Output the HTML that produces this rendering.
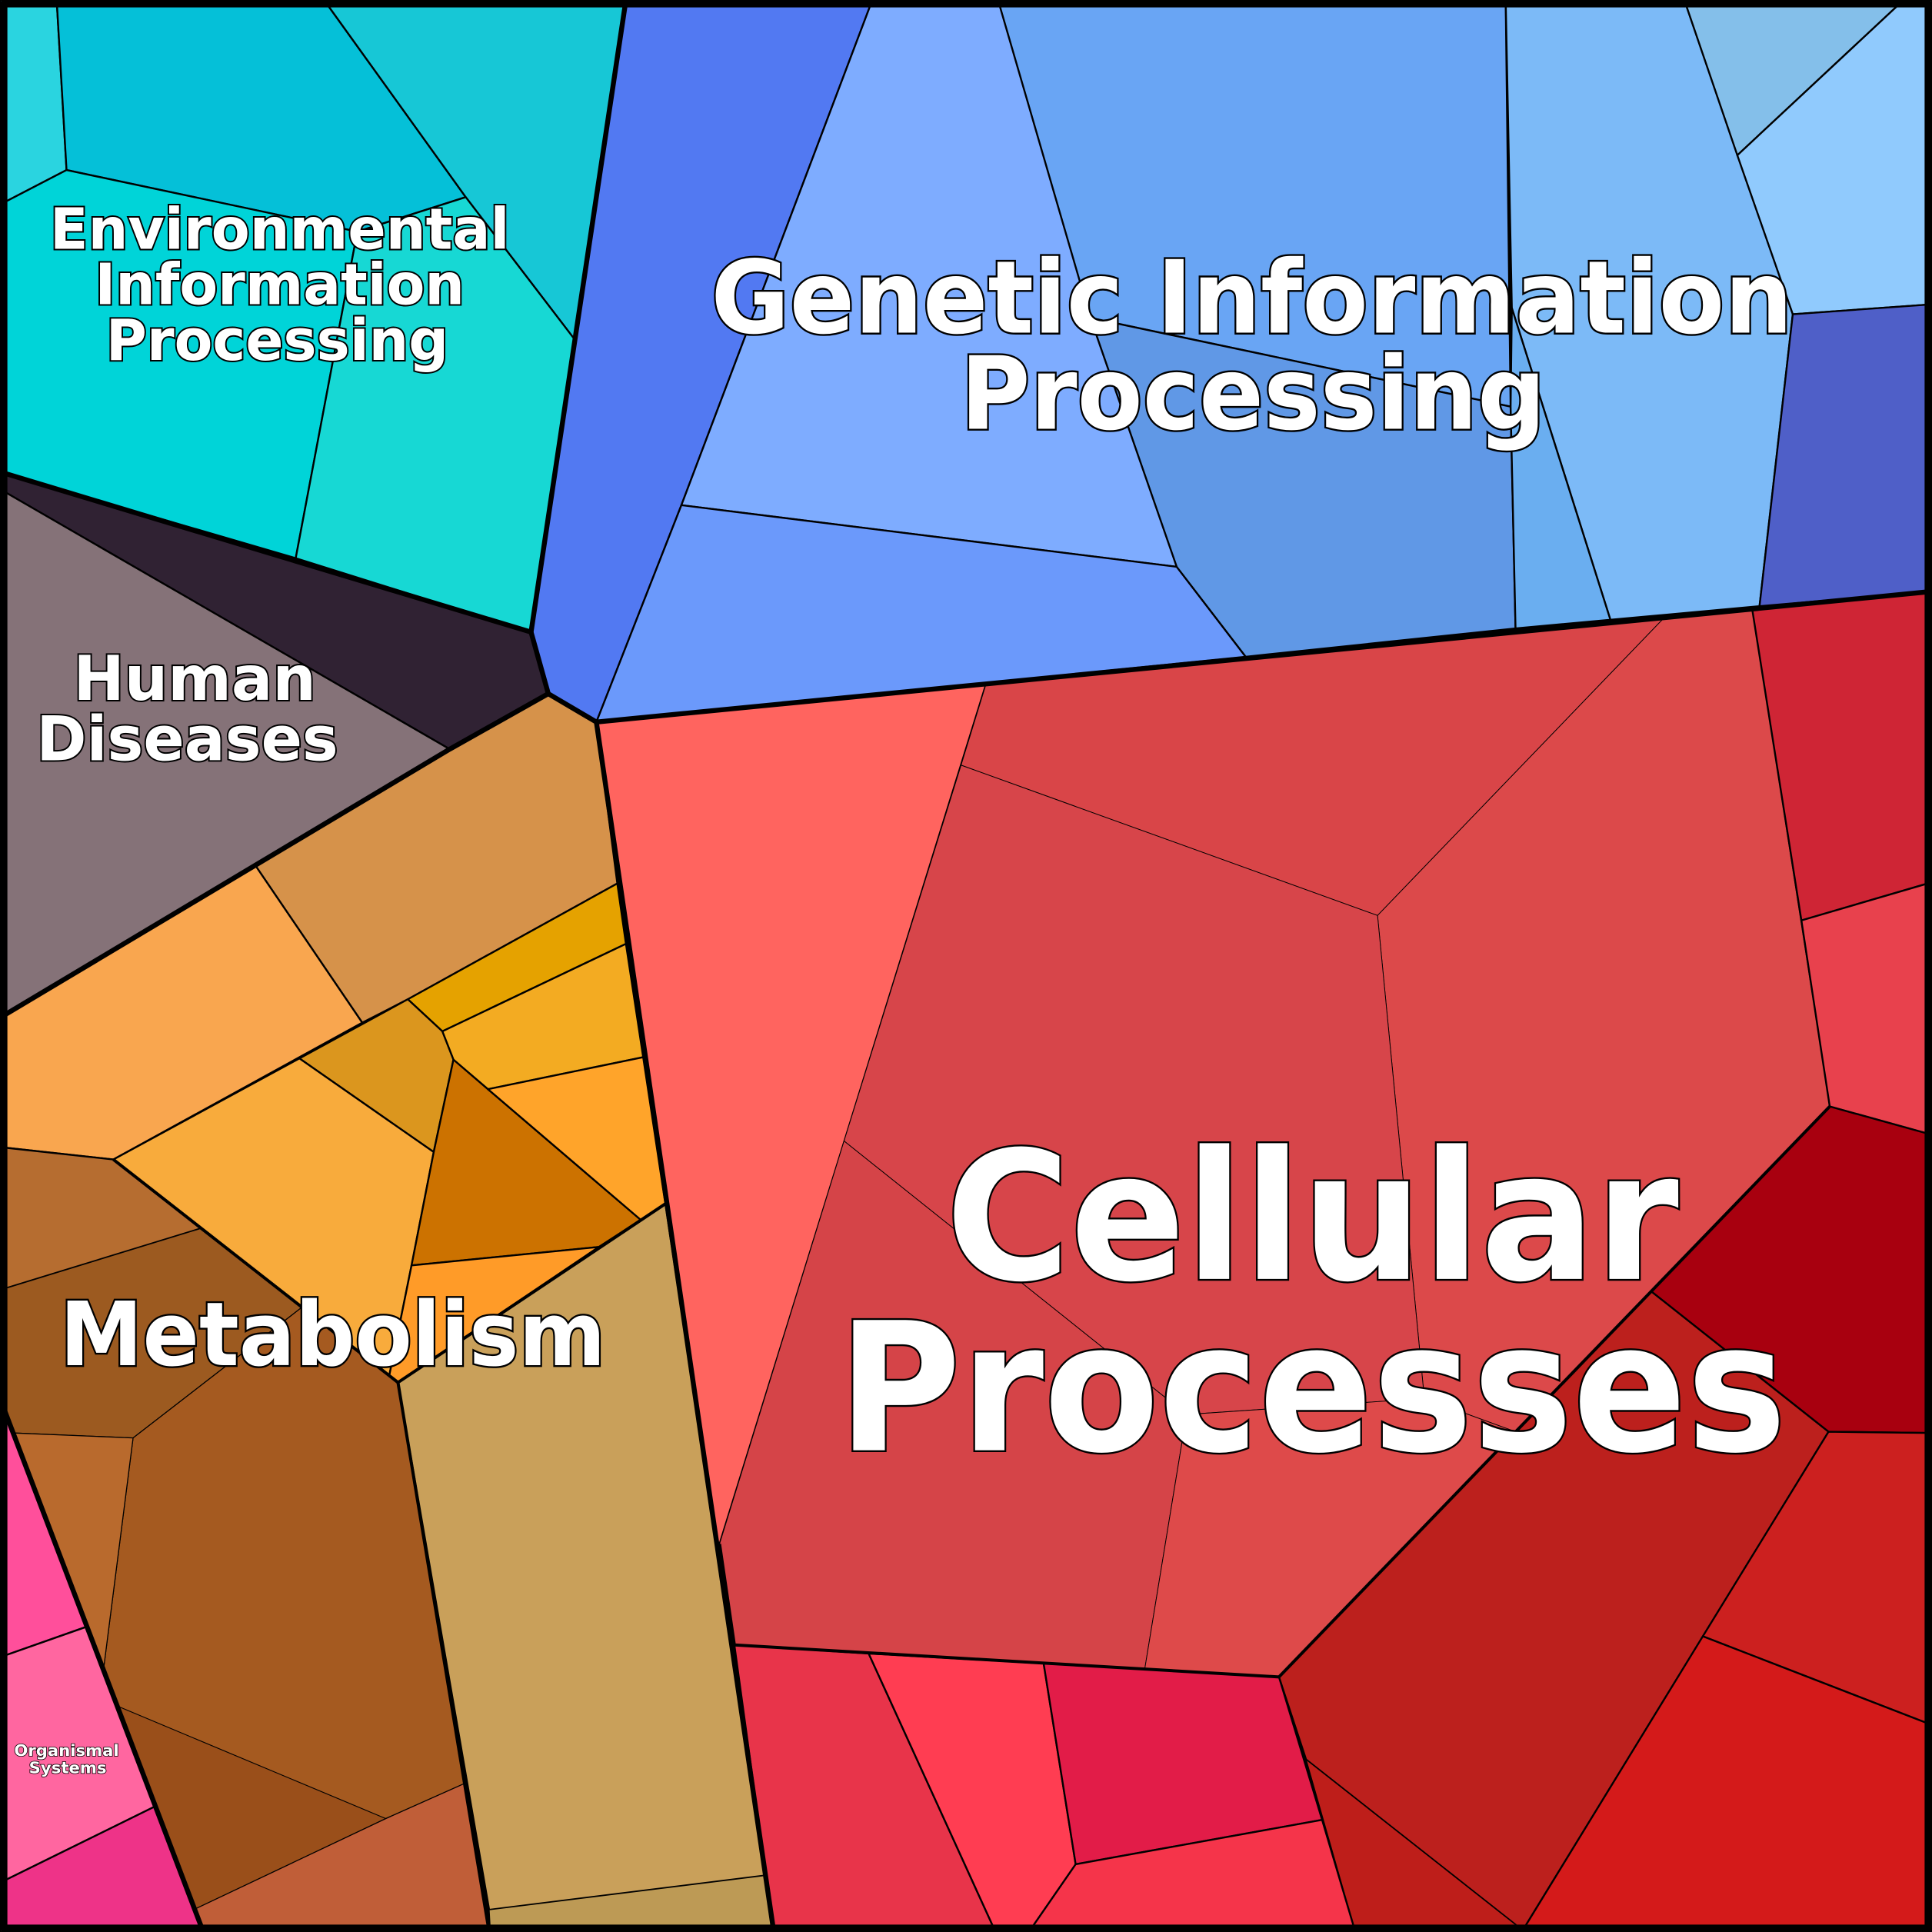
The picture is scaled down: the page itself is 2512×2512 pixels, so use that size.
<!DOCTYPE html>
<html><head><meta charset="utf-8"><style>html,body{margin:0;padding:0;background:#fff}svg{display:block}
text{font-family:"DejaVu Sans","Liberation Sans",sans-serif;font-weight:bold;fill:#fff;stroke:#000;paint-order:stroke;text-anchor:middle}</style></head>
<body>
<svg width="2512" height="2512" viewBox="0 0 1568 1568" xmlns="http://www.w3.org/2000/svg">
<rect x="0" y="0" width="1568" height="1568" fill="#000"/>
<g stroke="#000" stroke-width="1.5" stroke-linejoin="round">
<!-- Environmental -->
<polygon fill="#2ad4e0" points="0,0 46,0 54,138 0,166"/>
<polygon fill="#05c0d8" points="46,0 263,0 378,160 290,188 54,138"/>
<polygon fill="#17c7d6" points="263,0 508,0 466,275 378,160"/>
<polygon fill="#00d4d8" points="0,166 54,138 290,188 240,453 0,383"/>
<polygon fill="#17d8d4" points="290,188 378,160 466,275 431,513 240,453"/>
<!-- Human -->
<polygon fill="#302233" points="0,383 431,513 445,563 365,608 0,397"/>
<polygon fill="#857278" points="0,397 365,608 0,826"/>
<!-- Genetic -->
<polygon fill="#5279f2" points="508,0 708,0 553,410 484,586 445,563 431,513"/>
<polygon fill="#7eacff" points="708,0 810,0 955,460 553,410"/>
<polygon fill="#6b99fb" points="553,410 955,460 1011,533 484,586"/>
<polygon fill="#69a5f4" points="810,0 1222,0 1226,330 885,258"/>
<polygon fill="#6098e6" points="885,258 1226,330 1230,510 1011,533 955,460"/>
<polygon fill="#7cbaf7" points="1222,0 1367,0 1455,255 1428,492 1307,503 1227,250"/>
<polygon fill="#6aaef0" points="1227,250 1307,503 1230,510 1226,330"/>
<polygon fill="#84bfea" points="1367,0 1545,0 1410,126"/>
<polygon fill="#90cafd" points="1545,0 1568,0 1568,247 1455,255 1410,126"/>
<polygon fill="#4f5fc8" points="1455,255 1568,247 1568,480 1428,492"/>
<!-- Cellular -->
<polygon fill="#ff645f" points="484,586 800,556 584,1253 582,1253"/>
<polygon fill="#d94548" points="800,556 1350,502 1118,743 780,621" stroke-width="0.6"/>
<polygon fill="#dc494a" points="1350,502 1422,494 1485,898 1230,1162 1156,1135 1118,743" stroke-width="0.6"/>
<polygon fill="#d7454a" points="780,621 1118,743 1156,1135 963,1148 685,926" stroke-width="0.6"/>
<polygon fill="#d54448" points="685,926 963,1148 929,1355 596,1335 584,1253" stroke-width="0.6"/>
<polygon fill="#de4a4a" points="963,1148 1156,1135 1230,1162 1038,1361 929,1355" stroke-width="0.6"/>
<polygon fill="#cf2535" points="1422,494 1568,480 1568,716 1462,747"/>
<polygon fill="#e8414d" points="1462,747 1568,716 1568,921 1485,898"/>
<polygon fill="#a8000f" points="1485,898 1568,921 1568,1163 1484,1162 1340,1048"/>
<polygon fill="#bc201d" points="1340,1048 1484,1162 1235,1568 1230,1562 1060,1428 1038,1361 1230,1162"/>
<polygon fill="#be1e1a" points="1060,1428 1230,1562 1235,1568 1100,1568" stroke-width="0.8"/>
<polygon fill="#cc201f" points="1484,1162 1568,1163 1568,1400 1382,1328"/>
<polygon fill="#d41a1a" points="1382,1328 1568,1400 1568,1568 1235,1568"/>
<polygon fill="#e8344a" points="596,1335 705,1342 808,1568 628,1568"/>
<polygon fill="#ff3d52" points="705,1342 847,1350 873,1513 835,1568 808,1568"/>
<polygon fill="#e21c48" points="847,1350 1038,1361 1073,1477 873,1513"/>
<polygon fill="#f5344a" points="873,1513 1073,1477 1100,1568 835,1568"/>
<!-- Metabolism -->
<polygon fill="#d6924a" points="207,702 365,608 445,563 484,586 501,717 331,811 294,830"/>
<polygon fill="#f9a64f" points="0,826 207,702 294,830 92,941 0,931"/>
<polygon fill="#e5a200" points="331,811 501,717 508,766 359,837"/>
<polygon fill="#f3ab22" points="359,837 508,766 522,858 396,884 368,860"/>
<polygon fill="#db961e" points="243,859 331,811 359,837 368,860 352,935"/>
<polygon fill="#f8ab3c" points="92,941 243,859 352,935 334,1027 316,1116"/>
<polygon fill="#cc7200" points="368,860 396,884 520,990 486,1012 334,1027 352,935"/>
<polygon fill="#ffa42a" points="396,884 522,858 540,977 520,990"/>
<polygon fill="#ff9b28" points="334,1027 486,1012 323,1122 316,1116"/>
<polygon fill="#c9a05a" points="323,1122 540,977 622,1522 397,1550"/>
<polygon fill="#bd9a55" points="397,1550 622,1522 628,1568 398,1568" stroke-width="0.8"/>
<polygon fill="#b66d30" points="0,931 92,941 163,997 0,1047"/>
<polygon fill="#9c5a20" points="0,1047 163,997 245,1061 108,1167 11,1163 0,1135" stroke-width="0.8"/>
<polygon fill="#a55a20" points="108,1167 245,1061 323,1122 378,1447 313,1476 96,1385 84,1355" stroke-width="0.8"/>
<polygon fill="#b96a2d" points="11,1163 108,1167 84,1355" stroke-width="0.8"/>
<polygon fill="#9a4f1a" points="84,1355 96,1385 313,1476 159,1549" stroke-width="0.6"/>
<polygon fill="#c05e38" points="159,1549 313,1476 378,1447 397,1568 165,1568" stroke-width="0.8"/>
<!-- Organismal -->
<polygon fill="#ff4f9b" points="0,1135 71,1320 0,1345"/>
<polygon fill="#ff66a0" points="0,1345 71,1320 126,1466 0,1528"/>
<polygon fill="#ee3388" points="0,1528 126,1466 165,1568 0,1568"/>
</g>
<g fill="none" stroke="#000" stroke-width="4" stroke-linejoin="round">
<polyline points="0,383 431,513 445,563 484,586"/>
<polyline points="508,0 431,513"/>
<polyline points="0,826 365,608 445,563"/>
<polyline points="484,586 1568,480"/>
<polyline points="484,586 628,1568"/>
<polyline points="0,1135 165,1568"/>
<polyline points="92,941 323,1122 540,977" stroke-width="2.5"/>
<polyline points="323,1122 397,1568" stroke-width="2.5"/>
<polyline points="584,1253 596,1335 1038,1361 1485,898" stroke-width="2.5"/>
<rect x="3" y="3" width="1562" height="1562" stroke-width="6"/>
</g>
<g>
<text x="227" y="202" font-size="46" stroke-width="2.5" textLength="373" lengthAdjust="spacingAndGlyphs">Environmental</text>
<text x="227" y="247" font-size="46" stroke-width="2.5" textLength="300" lengthAdjust="spacingAndGlyphs">Information</text>
<text x="225" y="292" font-size="46" stroke-width="2.5" textLength="278" lengthAdjust="spacingAndGlyphs">Processing</text>
<text x="158" y="568" font-size="50" stroke-width="2.5" textLength="197" lengthAdjust="spacingAndGlyphs">Human</text>
<text x="152" y="617" font-size="50" stroke-width="2.5" textLength="245" lengthAdjust="spacingAndGlyphs">Diseases</text>
<text x="1016" y="270" font-size="82" stroke-width="3" textLength="878" lengthAdjust="spacingAndGlyphs">Genetic Information</text>
<text x="1017" y="348" font-size="82" stroke-width="3" textLength="475" lengthAdjust="spacingAndGlyphs">Processing</text>
<text x="1065" y="1038" font-size="145" stroke-width="3" textLength="595" lengthAdjust="spacingAndGlyphs">Cellular</text>
<text x="1065" y="1177" font-size="145" stroke-width="3" textLength="770" lengthAdjust="spacingAndGlyphs">Processes</text>
<text x="270" y="1108" font-size="72" stroke-width="3" textLength="443" lengthAdjust="spacingAndGlyphs">Metabolism</text>
<text x="54" y="1425" font-size="13" stroke-width="1" textLength="85" lengthAdjust="spacingAndGlyphs">Organismal</text>
<text x="55" y="1439" font-size="13" stroke-width="1" textLength="63" lengthAdjust="spacingAndGlyphs">Systems</text>
</g>
</svg>
</body></html>
